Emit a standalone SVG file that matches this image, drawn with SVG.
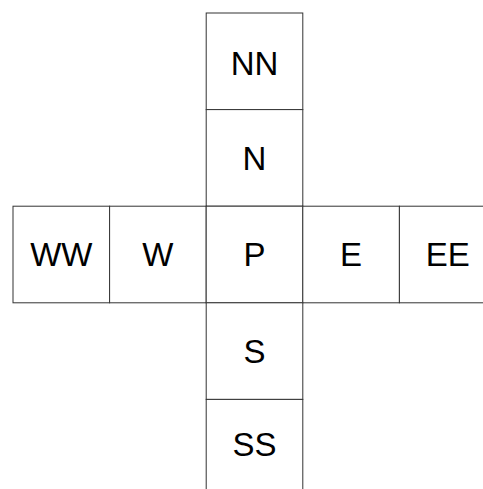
<svg xmlns="http://www.w3.org/2000/svg" width="483" height="489" viewBox="0 0 483 489">
<style>
  rect.cell { fill: #ffffff; stroke: #333333; stroke-width: 1; }
  text { font-family: "Liberation Sans", Arial, sans-serif; font-size: 33px; fill: #000000; text-anchor: middle; }
</style>
<rect x="0" y="0" width="483" height="489" fill="#ffffff"/>
<g id="NN"><rect class="cell" x="206.2" y="13" width="96.6" height="96.6"/><text x="254.5" y="75">NN</text></g>
<g id="N"><rect class="cell" x="206.2" y="109.6" width="96.6" height="96.6"/><text x="254.5" y="169.5">N</text></g>
<g id="WW"><rect class="cell" x="13" y="206.2" width="96.6" height="96.6"/><text x="61.3" y="266">WW</text></g>
<g id="W"><rect class="cell" x="109.6" y="206.2" width="96.6" height="96.6"/><text x="157.9" y="266">W</text></g>
<g id="P"><rect class="cell" x="206.2" y="206.2" width="96.6" height="96.6"/><text x="254.5" y="266">P</text></g>
<g id="E"><rect class="cell" x="302.8" y="206.2" width="96.6" height="96.6"/><text x="351.1" y="266">E</text></g>
<g id="EE"><rect class="cell" x="399.4" y="206.2" width="96.6" height="96.6"/><text x="447.7" y="266">EE</text></g>
<g id="S"><rect class="cell" x="206.2" y="302.8" width="96.6" height="96.6"/><text x="254.5" y="362.5">S</text></g>
<g id="SS"><rect class="cell" x="206.2" y="399.4" width="96.6" height="96.6"/><text x="254.5" y="455.5">SS</text></g>
<g id="connectors"></g>
</svg>
